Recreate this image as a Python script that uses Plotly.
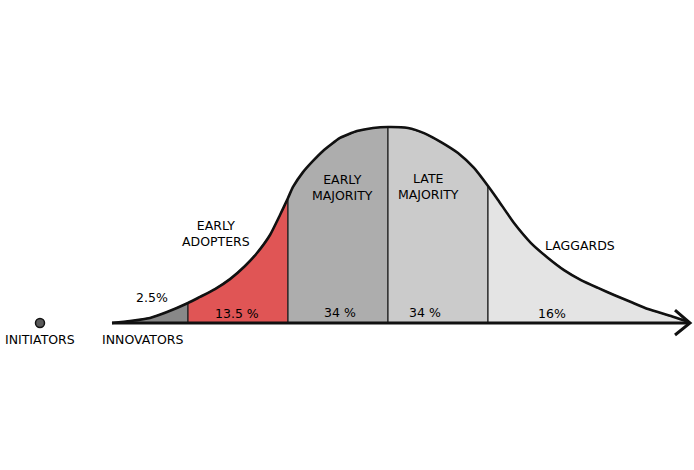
import plotly.graph_objects as go

# ---- data ----
# curve: x in standard deviations from the mean, y as share of the peak height
curve_x = [-2.76, -2.58, -2.38, -2.21, -2.00, -1.88, -1.73, -1.58, -1.43, -1.31, -1.18,
           -1.08, -1.00, -0.95, -0.85, -0.75, -0.65, -0.48, -0.31, -0.15, 0.00, 0.20,
           0.36, 0.53, 0.70, 0.86, 1.00, 1.10, 1.26, 1.43, 1.60, 1.76, 1.93, 2.10,
           2.26, 2.43, 2.60, 2.83, 2.98]
curve_y = [0.000, 0.010, 0.026, 0.056, 0.102, 0.133, 0.173, 0.224, 0.291, 0.357, 0.449,
           0.551, 0.638, 0.694, 0.770, 0.827, 0.878, 0.944, 0.979, 0.995, 1.000, 0.995,
           0.969, 0.923, 0.867, 0.791, 0.699, 0.628, 0.510, 0.408, 0.332, 0.270, 0.219,
           0.179, 0.143, 0.107, 0.071, 0.036, 0.010]

segment_names = ["INNOVATORS", "EARLY<br>ADOPTERS", "EARLY<br>MAJORITY", "LATE<br>MAJORITY", "LAGGARDS"]
segment_bounds = [-2.76, -2.0, -1.0, 0.0, 1.0, 2.98]
segment_shares = ["2.5%", "13.5 %", "34 %", "34 %", "16%"]
segment_colors = ["#888888", "#e05555", "#adadad", "#cbcbcb", "#e4e4e4"]
extra_label = "INITIATORS"

# ---- layout positions (sd units / share of peak) ----
name_pos = [(-2.46, -0.082), (-1.72, 0.459), (-0.46, 0.689), (0.40, 0.694), (1.92, 0.398)]
share_pos = [(-2.36, 0.128), (-1.51, 0.051), (-0.48, 0.056), (0.37, 0.056), (1.64, 0.051)]
init_pos = (-3.48, 0.0)
axis_end = 3.02

FONT = dict(family="DejaVu Sans", size=12.5, color="#000")

fig = go.Figure()

# filled segments
for i in range(len(segment_names)):
    lo, hi = segment_bounds[i], segment_bounds[i + 1]
    xs = [lo] + [x for x in curve_x if lo <= x <= hi] + [hi, lo]
    ys = [0] + [y for x, y in zip(curve_x, curve_y) if lo <= x <= hi] + [0, 0]
    fig.add_trace(go.Scatter(x=xs, y=ys, fill="toself", fillcolor=segment_colors[i],
                             mode="lines", line=dict(color="#222", width=1.2),
                             hoverinfo="skip", showlegend=False))

# curve outline
fig.add_trace(go.Scatter(x=curve_x, y=curve_y, mode="lines",
                         line=dict(color="#111", width=2.6, shape="spline", smoothing=0.5),
                         hoverinfo="skip", showlegend=False))

# baseline axis with open arrow head
fig.add_trace(go.Scatter(x=[curve_x[0], axis_end], y=[0, 0], mode="lines",
                         line=dict(color="#111", width=3), hoverinfo="skip", showlegend=False))
fig.add_trace(go.Scatter(x=[axis_end - 0.15, axis_end, axis_end - 0.15], y=[0.066, 0, -0.061],
                         mode="lines", line=dict(color="#111", width=3),
                         hoverinfo="skip", showlegend=False))

# initiators dot
fig.add_trace(go.Scatter(x=[init_pos[0]], y=[init_pos[1]], mode="markers",
                         marker=dict(size=9, color="#5a5a5a", line=dict(color="#111", width=1.5)),
                         hoverinfo="skip", showlegend=False))

annotations = [dict(x=init_pos[0], y=-0.082, text=extra_label, showarrow=False, font=FONT)]
for name, (x, y) in zip(segment_names, name_pos):
    annotations.append(dict(x=x, y=y, text=name, showarrow=False, font=FONT))
for s, (x, y) in zip(segment_shares, share_pos):
    annotations.append(dict(x=x, y=y, text=s, showarrow=False, font=FONT))

fig.update_layout(
    width=694, height=470,
    margin=dict(l=0, r=0, t=0, b=0),
    paper_bgcolor="white", plot_bgcolor="white",
    xaxis=dict(range=[-3.88, 3.06], visible=False, fixedrange=True),
    yaxis=dict(range=[-0.75, 1.648], visible=False, fixedrange=True),
    annotations=annotations,
    showlegend=False,
)

fig.write_html("out.html", config={"displayModeBar": False},
               post_script="document.body.style.margin='0';document.body.style.overflow='hidden';")
